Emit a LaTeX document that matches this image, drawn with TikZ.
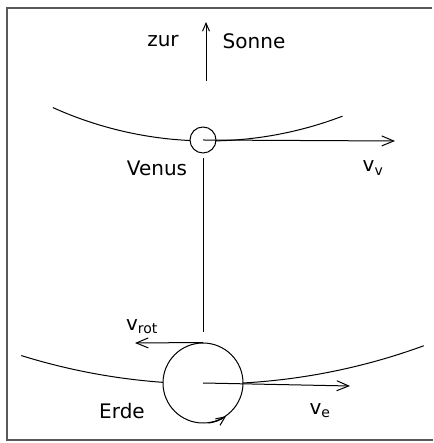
\documentclass[tikz,border=0pt]{standalone}
\usepackage{fontspec}
\setmainfont{DejaVu Sans}
\usetikzlibrary{arrows.meta}
\begin{document}
\begin{tikzpicture}[x=1pt,y=1pt,line width=1pt,every node/.style={font=\fontsize{20}{22}\selectfont},
  planet/.style={draw,circle,fill=white,inner sep=0pt},
  vec/.style={-{Straight Barb[length=12pt,width=10pt,line width=1pt]}}]
\useasboundingbox (0,0) rectangle (433,443);
\draw[gray!70!black,line width=1.6pt] (432,435) -- (7,435) -- (7,3) -- (433,3);
% orbits
\draw (208,679) ++(245.7:377) arc[start angle=245.7,end angle=290.9,radius=377];
\draw (208,687) ++(252.7:628) arc[start angle=252.7,end angle=290.1,radius=628];
% planets
\node[planet,minimum size=26pt] (venus) at (203,303) {};
\node[planet,minimum size=80pt] (erde) at (203,60) {};
\coordinate (sunfoot) at (206,362); \coordinate (sun) at (206,421);
\coordinate (vvend) at (395,302); \coordinate (veend) at (350,57); \coordinate (vrotend) at (135,100);
\draw[-{Straight Barb[length=8pt,width=7pt,line width=1pt]}] (sunfoot) -- (sun);
\node (zur) at (163,402) {zur}; \node (sonne) at (254,402) {Sonne};
\draw[shorten <=5pt,shorten >=10pt] (venus) -- (erde);
\draw[vec] (venus.center) -- (vvend);
\draw[vec] (erde.center) -- (veend);
\draw[vec] (erde.north) -- (vrotend);
\draw[-{Straight Barb[length=9pt,width=8pt,line width=1pt]}] (erde.-82) arc[start angle=-82,end angle=-55,radius=40];
\node (venuslbl) at (157,275) {Venus}; \node (vv) at (373,275) {v\textsubscript{v}};
\node (erdelbl) at (122,32) {Erde}; \node (ve) at (320,32) {v\textsubscript{e}};
\node (vrot) at (142,116) {v\textsubscript{rot}};
\end{tikzpicture}
\end{document}
